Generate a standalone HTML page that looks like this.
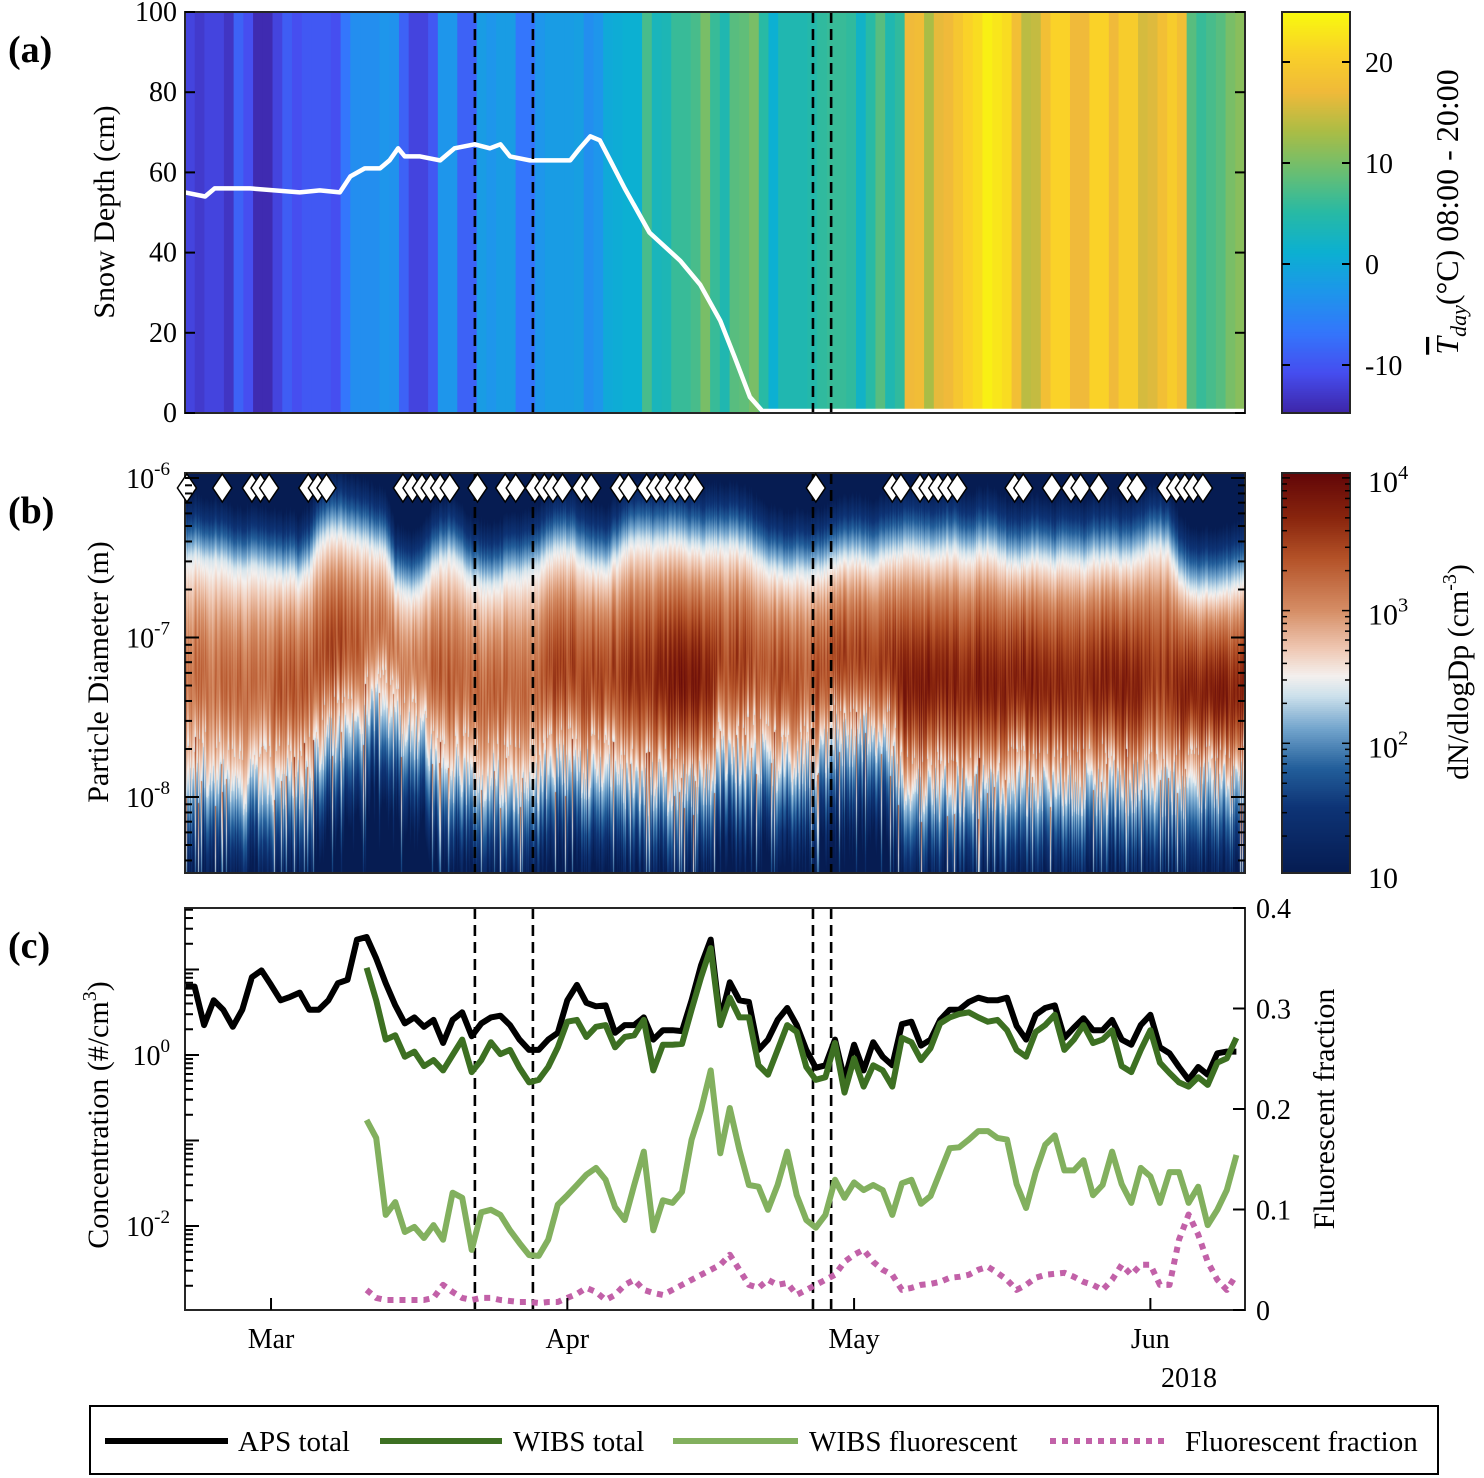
<!DOCTYPE html>
<html><head><meta charset="utf-8"><style>
html,body{margin:0;padding:0;background:#fff;}
#wrap{position:relative;width:1484px;height:1478px;overflow:hidden;font-family:"Liberation Serif",serif;}
#spec{position:absolute;left:185px;top:473px;}
#svg{position:absolute;left:0;top:0;}
</style></head><body>
<div id="wrap">
<canvas id="spec" width="1060" height="400"></canvas>
<svg id="svg" width="1484" height="1478" xmlns="http://www.w3.org/2000/svg"></svg>
</div>
<script>
// ===== DATA =====
const NDAYS = 110.9;
const monthLabels = ["Mar","Apr","May","Jun"];
const monthDays = [9,40,70,101];
const eventDays = [30.33,36.4,65.7,67.6];
const tempDaily = [-12,-13,-12,-12,-13.5,-9,-11,-14.5,-14.5,-12,-9.5,-11,-10,-10,-10,-11,-7,-4,-4,-4,-3,-3.5,-9,-12,-12,-10,-3,-3,-9,-9,-2,-3,-2,-2,-7,-7,-3,-2,-2,-2,-1.5,-4,-3,0,0.5,1,1,7,3,3.5,6,6,7,10,6,4,8,8.5,10,5,1,4,4,4,4.5,5.5,6,6,5.5,2,5,8,4,5.5,17,17.5,13,16.5,17,19,21,22,24,23,22,18,14,14.5,18,21,21,17,17,21,21,17,20,20,15.5,16,18,20,18,8,6,7,8,10,11];
const snowDay = [0,2.1,3.1,6.8,12,14.1,16.2,17.3,18.8,20.4,21.4,22.3,23,24.6,26.7,28.2,30.3,31.9,33,34,36.1,40.3,41.3,42.4,43.4,44.5,46,48.6,51.8,53.9,56,57.5,59.1,60.4,110.9];
const snowDepth = [55,54,56,56,55,55.5,55,59,61,61,63,66,64,64,63,66,67,66,67,64,63,63,66,69,68,63,56,45,38,32,23,14,4,0.5,0.5];
const bioDays = [0.2,3.9,7.0,7.9,8.8,12.9,13.9,14.8,22.8,23.8,24.8,25.7,26.7,27.7,30.6,33.5,34.6,36.6,37.6,38.5,39.5,41.5,42.5,45.5,46.4,48.3,49.3,50.2,51.3,52.3,53.3,66.0,74.0,74.9,76.9,77.8,78.8,79.8,80.8,86.8,87.7,90.7,92.7,93.7,95.6,98.6,99.6,102.7,103.7,104.6,105.5,106.5];
const bandUpper = [-6.45,-6.43,-6.47,-6.45,-6.48,-6.5,-6.52,-6.48,-6.5,-6.52,-6.55,-6.53,-6.57,-6.5,-6.35,-6.3,-6.28,-6.3,-6.33,-6.35,-6.38,-6.4,-6.62,-6.65,-6.67,-6.6,-6.5,-6.45,-6.43,-6.5,-6.58,-6.6,-6.62,-6.6,-6.55,-6.57,-6.53,-6.5,-6.42,-6.4,-6.38,-6.42,-6.48,-6.5,-6.52,-6.45,-6.38,-6.35,-6.33,-6.36,-6.35,-6.33,-6.35,-6.37,-6.38,-6.36,-6.37,-6.35,-6.38,-6.4,-6.45,-6.5,-6.53,-6.55,-6.53,-6.52,-6.55,-6.5,-6.47,-6.45,-6.43,-6.45,-6.47,-6.44,-6.42,-6.4,-6.38,-6.4,-6.42,-6.4,-6.38,-6.4,-6.42,-6.4,-6.38,-6.42,-6.45,-6.47,-6.45,-6.43,-6.45,-6.47,-6.43,-6.45,-6.47,-6.44,-6.45,-6.43,-6.46,-6.45,-6.42,-6.37,-6.36,-6.4,-6.55,-6.62,-6.65,-6.64,-6.66,-6.63,-6.6];
const bandLower = [-7.85,-7.85,-7.8,-7.85,-7.88,-7.9,-7.9,-7.88,-7.9,-7.9,-7.9,-7.88,-7.9,-7.85,-7.7,-7.6,-7.58,-7.6,-7.55,-7.45,-7.4,-7.42,-7.5,-7.55,-7.58,-7.6,-7.75,-7.8,-7.82,-7.8,-7.85,-7.85,-7.83,-7.85,-7.88,-7.9,-7.9,-7.88,-7.8,-7.8,-7.78,-7.8,-7.8,-7.82,-7.8,-7.85,-7.9,-7.9,-7.92,-7.9,-7.9,-7.92,-7.9,-7.9,-7.88,-7.85,-7.7,-7.7,-7.72,-7.7,-7.7,-7.75,-7.75,-7.78,-7.75,-7.75,-7.72,-7.7,-7.6,-7.6,-7.62,-7.6,-7.58,-7.6,-7.7,-7.9,-7.93,-7.93,-7.95,-7.93,-7.92,-7.93,-7.95,-7.93,-7.92,-7.93,-7.9,-7.9,-7.9,-7.9,-7.9,-7.9,-7.92,-7.9,-7.9,-7.9,-7.88,-7.9,-7.9,-7.92,-7.9,-7.9,-7.9,-7.9,-7.9,-7.92,-7.9,-7.9,-7.9,-7.9,-7.9];
const bandPeak = [3.3,3.3,3.35,3.3,3.3,3.4,3.4,3.45,3.4,3.4,3.5,3.5,3.5,3.45,3.5,3.55,3.6,3.5,3.45,3.3,3.3,3.3,3.2,3.2,3.2,3.25,3.4,3.4,3.45,3.4,3.4,3.35,3.4,3.4,3.3,3.3,3.3,3.35,3.6,3.6,3.65,3.6,3.6,3.6,3.55,3.6,3.7,3.7,3.75,3.7,3.85,3.9,3.95,3.9,3.9,3.85,3.6,3.6,3.65,3.6,3.5,3.5,3.5,3.55,3.5,3.5,3.5,3.55,3.6,3.6,3.6,3.65,3.6,3.6,3.7,3.9,3.9,3.95,3.9,3.9,3.9,3.85,3.9,3.9,3.9,3.85,3.9,3.9,3.95,3.9,3.85,3.85,3.9,3.85,3.85,3.8,3.85,3.85,3.9,3.85,3.85,3.7,3.7,3.7,3.9,3.95,3.9,3.9,3.95,3.9,3.85];
const apsLog = [0.80,0.80,0.35,0.64,0.53,0.33,0.53,0.91,0.99,0.82,0.64,0.68,0.73,0.53,0.53,0.64,0.84,0.88,1.35,1.38,1.13,0.84,0.58,0.37,0.44,0.33,0.41,0.14,0.41,0.50,0.22,0.37,0.44,0.46,0.35,0.18,0.06,0.06,0.18,0.26,0.64,0.82,0.61,0.57,0.58,0.26,0.35,0.35,0.44,0.18,0.29,0.29,0.28,0.64,1.05,1.35,0.41,0.85,0.64,0.62,0.06,0.18,0.41,0.55,0.35,0.06,-0.15,-0.12,0.18,-0.29,0.12,-0.18,0.15,-0.02,-0.12,0.36,0.39,0.11,0.18,0.41,0.53,0.53,0.62,0.67,0.64,0.64,0.67,0.34,0.18,0.47,0.55,0.58,0.20,0.32,0.43,0.29,0.29,0.41,0.18,0.12,0.35,0.47,0.09,0.02,-0.14,-0.29,-0.14,-0.23,0.02,0.04,0.04];
const wibsStart = 19;
const wibsTotalLog = [1.02,0.64,0.18,0.23,-0.02,0.04,-0.13,-0.06,-0.18,0.00,0.18,-0.20,-0.06,0.15,0.01,0.06,-0.15,-0.32,-0.29,-0.14,0.09,0.39,0.41,0.21,0.33,0.35,0.09,0.21,0.23,0.41,-0.18,0.12,0.12,0.13,0.53,0.91,1.25,0.35,0.67,0.44,0.44,-0.12,-0.23,0.06,0.35,0.27,-0.14,-0.29,-0.26,0.14,-0.44,-0.04,-0.37,-0.12,-0.18,-0.37,0.20,0.15,-0.06,0.08,0.37,0.44,0.48,0.50,0.44,0.39,0.41,0.29,0.06,-0.02,0.27,0.35,0.47,0.06,0.18,0.35,0.14,0.18,0.29,-0.13,-0.20,0.06,0.29,-0.09,-0.21,-0.32,-0.37,-0.26,-0.35,-0.09,-0.04,0.20];
const wibsFluorLog = [-0.76,-0.97,-1.87,-1.72,-2.07,-2.01,-2.14,-1.99,-2.16,-1.61,-1.67,-2.28,-1.84,-1.81,-1.87,-2.05,-2.20,-2.34,-2.35,-2.16,-1.75,-1.64,-1.52,-1.40,-1.32,-1.46,-1.78,-1.93,-1.52,-1.13,-2.05,-1.70,-1.73,-1.60,-0.99,-0.64,-0.18,-1.15,-0.62,-1.11,-1.52,-1.54,-1.81,-1.52,-1.13,-1.64,-1.93,-2.02,-1.87,-1.46,-1.67,-1.49,-1.58,-1.52,-1.58,-1.87,-1.50,-1.46,-1.74,-1.65,-1.37,-1.09,-1.08,-0.99,-0.89,-0.89,-0.97,-0.99,-1.51,-1.79,-1.37,-1.05,-0.94,-1.35,-1.35,-1.23,-1.64,-1.52,-1.13,-1.51,-1.73,-1.32,-1.42,-1.73,-1.37,-1.37,-1.73,-1.54,-1.99,-1.81,-1.58,-1.17];
const fluorFraction = [0.020,0.012,0.010,0.010,0.010,0.010,0.010,0.012,0.025,0.018,0.012,0.010,0.012,0.012,0.010,0.009,0.008,0.008,0.007,0.008,0.008,0.012,0.016,0.022,0.018,0.010,0.015,0.025,0.030,0.020,0.017,0.015,0.020,0.025,0.030,0.035,0.040,0.045,0.055,0.040,0.025,0.022,0.030,0.025,0.027,0.015,0.020,0.025,0.030,0.035,0.048,0.055,0.060,0.048,0.040,0.035,0.020,0.022,0.025,0.026,0.028,0.032,0.033,0.035,0.040,0.043,0.037,0.030,0.020,0.025,0.032,0.035,0.036,0.037,0.033,0.028,0.025,0.020,0.030,0.045,0.035,0.045,0.045,0.025,0.025,0.070,0.095,0.075,0.048,0.030,0.020,0.035];
const snowTicks = [0,20,40,60,80,100];
const tempTicks = [-10,0,10,20];
const fracTicks = [0,0.1,0.2,0.3,0.4];

// ===== SCALES =====
const X0=185, X1=1245;
const xs = d => X0 + d*(X1-X0)/NDAYS;
const A_T=12, A_B=413, B_T=473, B_B=873, C_T=908, C_B=1310;
const ySnow = v => A_B - v*(A_B-A_T)/100;
const yDiam = l => 478 + (-6-l)*159.5;
const yConc = e => 1055 - e*85.5;
const yFrac = f => C_B - f*1005;
const yTempBar = t => 264 - t*10.1;
const yCbB = l => 876 - (l-1)*132.7;

function parula(t){
  const s=[[0,62,38,168],[0.1,70,78,240],[0.2,52,118,252],[0.3,30,150,235],[0.4,12,176,210],[0.5,40,186,165],[0.6,105,191,115],[0.7,170,189,70],[0.8,240,186,58],[0.9,250,210,40],[1,249,251,14]];
  t=Math.max(0,Math.min(1,t));
  for(let i=1;i<s.length;i++){ if(t<=s[i][0]){const a=s[i-1],b=s[i],f=(t-a[0])/(b[0]-a[0]);
    return [a[1]+f*(b[1]-a[1]),a[2]+f*(b[2]-a[2]),a[3]+f*(b[3]-a[3])];}}
  return [249,251,14];
}
const tempColor = T => { const c=parula((T+15)/40); return `rgb(${c[0]|0},${c[1]|0},${c[2]|0})`; };
function rdbu(v){
  const s=[[1.0,6,28,82],[1.5,14,52,118],[1.8,35,95,155],[2.1,115,165,205],[2.35,205,225,236],[2.5,244,240,238],[2.7,240,202,182],[3.0,214,142,102],[3.4,180,82,40],[3.7,138,38,14],[4.05,98,6,8]];
  if(v<=s[0][0]) return [s[0][1],s[0][2],s[0][3]];
  for(let i=1;i<s.length;i++){ if(v<=s[i][0]){const a=s[i-1],b=s[i],f=(v-a[0])/(b[0]-a[0]);
    return [a[1]+f*(b[1]-a[1]),a[2]+f*(b[2]-a[2]),a[3]+f*(b[3]-a[3])];}}
  return [98,6,8];
}

const svg=document.getElementById('svg');
const NS='http://www.w3.org/2000/svg';
function mk(tag, attrs, parent){ const e=document.createElementNS(NS,tag); for(const k in attrs) e.setAttribute(k,attrs[k]); (parent||svg).appendChild(e); return e; }
function txt(x,y,s,size,anchor,parent){ const t=mk('text',{x:x,y:y,'font-size':size,'text-anchor':anchor||'start','font-family':'"Liberation Serif",serif',fill:'#000'},parent); t.textContent=s; return t; }
function sup(x,y,base,exp,size,anchor){ const t=mk('text',{x:x,y:y,'font-size':size,'text-anchor':anchor||'end','font-family':'"Liberation Serif",serif'});
  const a=mk('tspan',{},t); a.textContent=base; const b=mk('tspan',{dy:-13,'font-size':size*0.68},t); b.textContent=exp; return t; }
function interp(arr, d){ const i=Math.max(0,Math.min(arr.length-1,Math.floor(d))); const j=Math.min(arr.length-1,i+1); const f=Math.max(0,Math.min(1,d-i)); return arr[i]*(1-f)+arr[j]*f; }

// ===== PANEL A =====
const gA=mk('g',{});
 
const stripeW=(X1-X0)/tempDaily.length;
tempDaily.forEach((T,i)=>{
  const r=mk('rect',{x:X0+i*stripeW,y:A_T,width:stripeW+0.6,height:A_B-A_T,fill:tempColor(T)},gA);
  
  
});
let sp='';
snowDay.forEach((d,i)=>{ sp+=(i?'L':'M')+xs(d).toFixed(1)+','+ySnow(snowDepth[i]).toFixed(1); });
const snowLine=mk('path',{d:sp,fill:'none',stroke:'#fff','stroke-width':4.5,'stroke-linejoin':'round'},gA);
 

[[A_T,A_B],[B_T,B_B],[C_T,C_B]].forEach(([t,b],pi)=>{
  eventDays.forEach(d=>{
    const l=mk('line',{x1:xs(d),x2:xs(d),y1:t,y2:b,stroke:'#000','stroke-width':2.6,'stroke-dasharray':'11,6'});
     
  });
});

function frame(t,b,name){ const r=mk('rect',{x:X0,y:t,width:X1-X0,height:b-t,fill:'none',stroke:'#262626','stroke-width':2});   }
frame(A_T,A_B,'panel-a-frame');
snowTicks.forEach(v=>{
  const y=ySnow(v);
  mk('line',{x1:X0,x2:X0+10,y1:y,y2:y,stroke:'#000','stroke-width':2});
  mk('line',{x1:X1-10,x2:X1,y1:y,y2:y,stroke:'#000','stroke-width':2});
  const t=txt(177,y+9,String(v),28,'end');
   
});
let t=txt(0,0,'Snow Depth (cm)',30,'middle'); t.setAttribute('transform','translate(114,212) rotate(-90)');
 
t=mk('text',{x:8,y:62,'font-size':38,'font-weight':'bold','font-family':'"Liberation Serif",serif'}); t.textContent='(a)';
 

for(let i=0;i<200;i++){
  const y0=A_T+i*(A_B-A_T)/200, T=25-(i+0.5)*40/200;
  mk('rect',{x:1282,y:y0,width:68,height:(A_B-A_T)/200+0.6,fill:tempColor(T)});
}
const cbA=mk('rect',{x:1282,y:A_T,width:68,height:A_B-A_T,fill:'none',stroke:'#262626','stroke-width':2});
 
tempTicks.forEach(T=>{
  const y=yTempBar(T);
  mk('line',{x1:1282,x2:1290,y1:y,y2:y,stroke:'#000','stroke-width':2});
  mk('line',{x1:1342,x2:1350,y1:y,y2:y,stroke:'#000','stroke-width':2});
  const tt=txt(1365,y+10,String(T),28,'start');
   
});
t=mk('text',{'font-size':32,'font-family':'"Liberation Serif",serif','text-anchor':'middle',transform:'translate(1458,212) rotate(-90)'});
let ts=mk('tspan',{'font-style':'italic','text-decoration':'overline'},t); ts.textContent='T';
ts=mk('tspan',{'font-style':'italic','font-size':22,dy:8},t); ts.textContent='day';
ts=mk('tspan',{dy:-8},t); ts.textContent='(°C) 08:00 - 20:00';
 

// ===== PANEL B (heatmap) =====
const cv=document.getElementById('spec'), ctx=cv.getContext('2d');
const img=ctx.createImageData(1060,400);
for(let px=0;px<1060;px++){
  const d=(px+0.5)/1060*NDAYS;
  const h=((Math.sin(px*12.9898)*43758.5453)%1+1)%1;
  const h2=((Math.sin(px*78.233+1.3)*12345.678)%1+1)%1;
  const up=interp(bandUpper,d)-0.05+(h-0.5)*0.06;
  const lo=interp(bandLower,d)+(h2-0.5)*0.45;
  const pk=interp(bandPeak,d)-0.12+(h-0.5)*0.4;
  for(let py=0;py<400;py++){
    const l=-6-((py+473)-478)/159.5;
    let v;
    if(l>up){ v=2.4-(l-up)*3.6; }
    else if(l<lo){ v=2.3-(lo-l)*2.2 + (h2>0.8?0.5:0) + (h>0.92?0.9:0); }
    else { const tt=(l-lo)/(up-lo); const c=0.42; const q=tt>c?(tt-c)/(1-c):(c-tt)/c; v=pk-(pk-2.4)*Math.pow(q,1.6); }
    v=Math.max(1.0,v);
    const c=rdbu(v), k=(py*1060+px)*4;
    img.data[k]=c[0]; img.data[k+1]=c[1]; img.data[k+2]=c[2]; img.data[k+3]=255;
  }
}
ctx.putImageData(img,0,0);
frame(B_T,B_B,'panel-b-frame');
bioDays.forEach(d=>{
  const x=xs(d), y=488;
  const p=mk('path',{d:`M${x},${y-14} L${x+9.5},${y} L${x},${y+14} L${x-9.5},${y} Z`,fill:'#fff',stroke:'#000','stroke-width':1.5});
   
});
for(let dec=-9;dec<=-6;dec++){
  for(let m=1;m<10;m++){
    const l=dec+Math.log10(m); const y=yDiam(l);
    if(y<B_T||y>B_B) continue;
    const len=m===1?14:7;
    mk('line',{x1:X0,x2:X0+len,y1:y,y2:y,stroke:'#000','stroke-width':2});
    mk('line',{x1:X1-len,x2:X1,y1:y,y2:y,stroke:'#000','stroke-width':2});
  }
}
[-6,-7,-8].forEach(e=>{
  const s=sup(170,yDiam(e)+10,'10',String(e),28,'end');
   
});
t=txt(0,0,'Particle Diameter  (m)',30,'middle'); t.setAttribute('transform','translate(108,672) rotate(-90)');
 
t=mk('text',{x:8,y:523,'font-size':38,'font-weight':'bold','font-family':'"Liberation Serif",serif'}); t.textContent='(b)';
 
for(let i=0;i<200;i++){
  const y0=B_T+i*(B_B-B_T)/200; const v=4.05-(i+0.5)*3.05/200; const c=rdbu(v);
  mk('rect',{x:1282,y:y0,width:68,height:(B_B-B_T)/200+0.6,fill:`rgb(${c[0]|0},${c[1]|0},${c[2]|0})`});
}
const cbB=mk('rect',{x:1282,y:B_T,width:68,height:B_B-B_T,fill:'none',stroke:'#262626','stroke-width':2});
 
for(let dec=1;dec<=4;dec++){
  for(let m=1;m<10;m++){
    const l=dec+Math.log10(m), y=yCbB(l); if(y<B_T||y>B_B) continue;
    const len=m===1?8:5;
    mk('line',{x1:1282,x2:1282+len,y1:y,y2:y,stroke:'#000','stroke-width':1.5});
    mk('line',{x1:1350-len,x2:1350,y1:y,y2:y,stroke:'#000','stroke-width':1.5});
  }
}
[4,3,2].forEach(e=>{ const s=sup(1368,yCbB(e)+14,'10',String(e),30,'start');   });
t=txt(1368,888,'10',30,'start');  
t=mk('text',{'font-size':30,'font-family':'"Liberation Serif",serif','text-anchor':'middle',transform:'translate(1468,672) rotate(-90)'});
ts=mk('tspan',{},t); ts.textContent='dN/dlogDp (cm';
ts=mk('tspan',{dy:-12,'font-size':20},t); ts.textContent='-3';
ts=mk('tspan',{dy:12},t); ts.textContent=')';
 

// ===== PANEL C =====
function series(vals,start,yf,stroke,w,dash,name){
  let d=''; vals.forEach((v,i)=>{ d+=(i?'L':'M')+xs(start+i).toFixed(1)+','+yf(v).toFixed(1); });
  const a={d:d,fill:'none',stroke:stroke,'stroke-width':w,'stroke-linejoin':'round'}; if(dash) a['stroke-dasharray']=dash;
  const p=mk('path',a);   return p;
}
series(fluorFraction,wibsStart,yFrac,'#c261a8',6,'6,6','fluorescent-fraction-line');
series(wibsFluorLog,wibsStart,yConc,'#82b05e',6,null,'wibs-fluorescent-line');
series(apsLog,0,yConc,'#000',6,null,'aps-total-line');
series(wibsTotalLog,wibsStart,yConc,'#3d7022',6,null,'wibs-total-line');
frame(C_T,C_B,'panel-c-frame');
for(let dec=-3;dec<=1;dec++){
  for(let m=1;m<10;m++){
    const l=dec+Math.log10(m), y=yConc(l); if(y<C_T||y>C_B) continue;
    const len=m===1?14:8;
    mk('line',{x1:X0,x2:X0+len,y1:y,y2:y,stroke:'#000','stroke-width':2});
  }
}
[0,-2].forEach(e=>{ const s=sup(170,yConc(e)+10,'10',String(e),28,'end');   });
fracTicks.forEach(f=>{
  const y=yFrac(f);
  mk('line',{x1:X1-12,x2:X1,y1:y,y2:y,stroke:'#000','stroke-width':2});
  const tt=txt(1256,y+10,String(f),28,'start');  
});
monthDays.forEach((d,i)=>{
  const x=xs(d);
  mk('line',{x1:x,x2:x,y1:C_B-12,y2:C_B,stroke:'#000','stroke-width':2});
  const tt=txt(x,1348,monthLabels[i],28,'middle');  
});
t=txt(1189,1387,'2018',28,'middle');  
t=mk('text',{'font-size':30,'font-family':'"Liberation Serif",serif','text-anchor':'middle',transform:'translate(108,1115) rotate(-90)'});
ts=mk('tspan',{},t); ts.textContent='Concentration (#/cm';
ts=mk('tspan',{dy:-12,'font-size':20},t); ts.textContent='3';
ts=mk('tspan',{dy:12},t); ts.textContent=')';
 
t=txt(0,0,'Fluorescent fraction',30,'middle'); t.setAttribute('transform','translate(1334,1109) rotate(-90)');
 
t=mk('text',{x:8,y:958,'font-size':38,'font-weight':'bold','font-family':'"Liberation Serif",serif'}); t.textContent='(c)';
 

// ===== LEGEND =====
const lg=mk('rect',{x:90,y:1406,width:1348,height:68,fill:'#fff',stroke:'#000','stroke-width':2});
 
[[105,228,238,'#000',null,'APS total'],[380,502,513,'#3d7022',null,'WIBS total'],[673,798,809,'#82b05e',null,'WIBS fluorescent'],[1050,1170,1185,'#c261a8','6,6','Fluorescent fraction']].forEach(e=>{
  const a={x1:e[0],x2:e[1],y1:1441,y2:1441,stroke:e[3],'stroke-width':6}; if(e[4]) a['stroke-dasharray']=e[4];
  const l=mk('line',a);  
  const tt=txt(e[2],1451,e[5],29,'start');  
});
</script>
</body></html>
